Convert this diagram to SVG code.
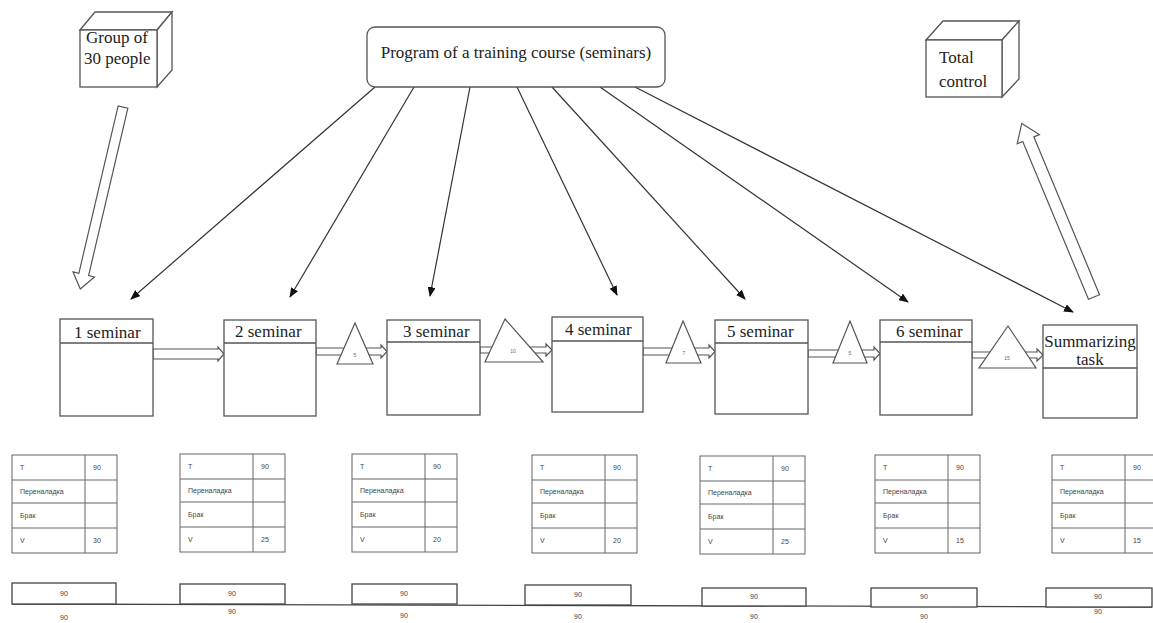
<svg xmlns="http://www.w3.org/2000/svg" width="1153" height="623" viewBox="0 0 1153 623">
  <style>
    .box { fill: #fff; stroke: #555; stroke-width: 1.3; }
    .serif { font-family: "Liberation Serif", "Times New Roman", serif; font-size: 17px; fill: #222; }
    .small { font-family: "Liberation Sans", Arial, sans-serif; font-size: 7px; fill: #444; }
    .tiny { font-family: "Liberation Sans", Arial, sans-serif; font-size: 5px; fill: #666; text-anchor: middle; }
    .thin { stroke: #333; stroke-width: 1.2; fill: none; marker-end: url(#solidHead); }
    .hollow { fill: #fff; stroke: #555; stroke-width: 1.2; }
    .grid { fill: #fff; stroke: #666; stroke-width: 1; }
    .bar { fill: #fff; stroke: #444; stroke-width: 1.3; }
    .mid { text-anchor: middle; }
  </style>
  <defs>
    <marker id="solidHead" markerWidth="10" markerHeight="8" refX="9" refY="4" orient="auto" markerUnits="userSpaceOnUse">
      <path d="M0,0 L10,4 L0,8 Z" fill="#111"/>
    </marker>
    <g id="tableGrid">
      <rect class="grid" x="0" y="0" width="105" height="98"/>
      <line class="grid" x1="73" y1="0" x2="73" y2="98"/>
      <line class="grid" x1="0" y1="25" x2="105" y2="25"/>
      <line class="grid" x1="0" y1="48" x2="105" y2="48"/>
      <line class="grid" x1="0" y1="73" x2="105" y2="73"/>
    </g>
  </defs>

  <rect width="1153" height="623" fill="#fff"/>

  <!-- connectors -->
  <g id="connectors">
    <!-- course program to each seminar -->
    <line class="thin" x1="375" y1="87" x2="131" y2="299"/>
    <line class="thin" x1="414" y1="87" x2="290" y2="297"/>
    <line class="thin" x1="470" y1="87" x2="430" y2="296"/>
    <line class="thin" x1="517" y1="87" x2="617" y2="295"/>
    <line class="thin" x1="552" y1="87" x2="745" y2="299"/>
    <line class="thin" x1="600" y1="87" x2="908" y2="302"/>
    <line class="thin" x1="635" y1="87" x2="1073" y2="312"/>

    <!-- group enters the first seminar -->
    <polygon class="hollow" transform="translate(123,107) rotate(103.2)" points="0,-5 172,-5 172,-11 187,0 172,11 172,5 0,5"/>
    <!-- summarizing task goes to total control -->
    <polygon class="hollow" transform="translate(1094,297) rotate(-112.6)" points="0,-6 171,-6 171,-12 188,0 171,12 171,6 0,6"/>

    <!-- seminar to seminar transfers -->
    <polygon class="hollow" points="153,349 218,349 218,347 224,354 218,361 218,359 153,359"/>
    <polygon class="hollow" points="316,348 381,348 381,345 387,351.5 381,358 381,355 316,355"/>
    <polygon class="hollow" points="480,347 546,347 546,344 552,350 546,356 546,353 480,353"/>
    <polygon class="hollow" points="643,348 709,348 709,345 715,351.5 709,358 709,355 643,355"/>
    <polygon class="hollow" points="808,350 874,350 874,347 880,353.5 874,360 874,357 808,357"/>
    <polygon class="hollow" points="972,352 1037,352 1037,349 1043,355 1037,361 1037,358 972,358"/>

    <!-- waiting stock between seminars -->
    <polygon class="hollow" points="355,323 373,364 337,364"/>
    <text class="tiny" x="355" y="357">5</text>
    <polygon class="hollow" points="505,319 543,362 485,362"/>
    <text class="tiny" x="513" y="353">10</text>
    <polygon class="hollow" points="683,321 701,363 666,363"/>
    <text class="tiny" x="684" y="355">7</text>
    <polygon class="hollow" points="850,321 867,363 833,363"/>
    <text class="tiny" x="850" y="355">5</text>
    <polygon class="hollow" points="1008,326 1036,368 979,368"/>
    <text class="tiny" x="1007" y="360">15</text>

    <!-- timeline -->
    <line x1="12" y1="604" x2="1152" y2="607" stroke="#444" stroke-width="1.3"/>
  </g>

  <!-- source and target -->
  <g id="group">
    <polygon class="box" points="80,30 95,12 172,12 157,30"/>
    <polygon class="box" points="157,30 172,12 172,70 157,87"/>
    <rect class="box" x="80" y="30" width="77" height="57"/>
    <text class="serif" x="86" y="43">Group of</text>
    <text class="serif" x="84" y="64">30 people</text>
  </g>

  <g id="program">
    <rect class="box" x="367" y="27" width="298" height="60" rx="8"/>
    <text class="serif mid" x="516" y="58">Program of a training course (seminars)</text>
  </g>

  <g id="total-control">
    <polygon class="box" points="926,40 943,21 1019,21 1002,40"/>
    <polygon class="box" points="1002,40 1019,21 1019,79 1002,97"/>
    <rect class="box" x="926" y="40" width="76" height="57"/>
    <text class="serif" x="939" y="63">Total</text>
    <text class="serif" x="939" y="87">control</text>
  </g>

  <!-- seminars -->
  <g id="seminar-1">
    <rect class="box" x="60" y="319" width="93" height="97"/>
    <line class="box" x1="60" y1="343" x2="153" y2="343"/>
    <text class="serif" x="74" y="338">1 seminar</text>
  </g>
  <g id="seminar-2">
    <rect class="box" x="224" y="320" width="92" height="96"/>
    <line class="box" x1="224" y1="343" x2="316" y2="343"/>
    <text class="serif" x="235" y="337">2 seminar</text>
  </g>
  <g id="seminar-3">
    <rect class="box" x="387" y="320" width="93" height="95"/>
    <line class="box" x1="387" y1="342" x2="480" y2="342"/>
    <text class="serif" x="403" y="337">3 seminar</text>
  </g>
  <g id="seminar-4">
    <rect class="box" x="552" y="317" width="91" height="95"/>
    <line class="box" x1="552" y1="341" x2="643" y2="341"/>
    <text class="serif" x="565" y="335">4 seminar</text>
  </g>
  <g id="seminar-5">
    <rect class="box" x="715" y="320" width="93" height="94"/>
    <line class="box" x1="715" y1="343" x2="808" y2="343"/>
    <text class="serif" x="727" y="337">5 seminar</text>
  </g>
  <g id="seminar-6">
    <rect class="box" x="880" y="320" width="92" height="95"/>
    <line class="box" x1="880" y1="342" x2="972" y2="342"/>
    <text class="serif" x="896" y="337">6 seminar</text>
  </g>
  <g id="summarizing-task">
    <rect class="box" x="1043" y="325" width="94" height="93"/>
    <line class="box" x1="1043" y1="368" x2="1137" y2="368"/>
    <text class="serif mid" x="1090" y="347">Summarizing</text>
    <text class="serif mid" x="1090" y="365">task</text>
  </g>

  <!-- stage parameter tables -->
  <g id="table-1" transform="translate(12,455)">
    <use href="#tableGrid"/>
    <text class="small" x="8" y="15">T</text><text class="small" x="81" y="15">90</text>
    <text class="small" x="8" y="39">Переналадка</text>
    <text class="small" x="8" y="63">Брак</text>
    <text class="small" x="8" y="88">V</text><text class="small" x="81" y="88">30</text>
  </g>
  <g id="table-2" transform="translate(180,454)">
    <use href="#tableGrid"/>
    <text class="small" x="8" y="15">T</text><text class="small" x="81" y="15">90</text>
    <text class="small" x="8" y="39">Переналадка</text>
    <text class="small" x="8" y="63">Брак</text>
    <text class="small" x="8" y="88">V</text><text class="small" x="81" y="88">25</text>
  </g>
  <g id="table-3" transform="translate(352,454)">
    <use href="#tableGrid"/>
    <text class="small" x="8" y="15">T</text><text class="small" x="81" y="15">90</text>
    <text class="small" x="8" y="39">Переналадка</text>
    <text class="small" x="8" y="63">Брак</text>
    <text class="small" x="8" y="88">V</text><text class="small" x="81" y="88">20</text>
  </g>
  <g id="table-4" transform="translate(532,455)">
    <use href="#tableGrid"/>
    <text class="small" x="8" y="15">T</text><text class="small" x="81" y="15">90</text>
    <text class="small" x="8" y="39">Переналадка</text>
    <text class="small" x="8" y="63">Брак</text>
    <text class="small" x="8" y="88">V</text><text class="small" x="81" y="88">20</text>
  </g>
  <g id="table-5" transform="translate(700,456)">
    <use href="#tableGrid"/>
    <text class="small" x="8" y="15">T</text><text class="small" x="81" y="15">90</text>
    <text class="small" x="8" y="39">Переналадка</text>
    <text class="small" x="8" y="63">Брак</text>
    <text class="small" x="8" y="88">V</text><text class="small" x="81" y="88">25</text>
  </g>
  <g id="table-6" transform="translate(875,455)">
    <use href="#tableGrid"/>
    <text class="small" x="8" y="15">T</text><text class="small" x="81" y="15">90</text>
    <text class="small" x="8" y="39">Переналадка</text>
    <text class="small" x="8" y="63">Брак</text>
    <text class="small" x="8" y="88">V</text><text class="small" x="81" y="88">15</text>
  </g>
  <g id="table-7" transform="translate(1052,455)">
    <use href="#tableGrid"/>
    <text class="small" x="8" y="15">T</text><text class="small" x="81" y="15">90</text>
    <text class="small" x="8" y="39">Переналадка</text>
    <text class="small" x="8" y="63">Брак</text>
    <text class="small" x="8" y="88">V</text><text class="small" x="81" y="88">15</text>
  </g>

  <!-- time bars on the timeline -->
  <g id="bar-1">
    <rect class="bar" x="12" y="583" width="104" height="21"/>
    <text class="small mid" x="64" y="596">90</text>
    <text class="small mid" x="64" y="620">90</text>
  </g>
  <g id="bar-2">
    <rect class="bar" x="180" y="584" width="105" height="20"/>
    <text class="small mid" x="232" y="596">90</text>
    <text class="small mid" x="232" y="614">90</text>
  </g>
  <g id="bar-3">
    <rect class="bar" x="352" y="584" width="105" height="20"/>
    <text class="small mid" x="404" y="596">90</text>
    <text class="small mid" x="404" y="618">90</text>
  </g>
  <g id="bar-4">
    <rect class="bar" x="525" y="585" width="106" height="20"/>
    <text class="small mid" x="578" y="597">90</text>
    <text class="small mid" x="578" y="619">90</text>
  </g>
  <g id="bar-5">
    <rect class="bar" x="702" y="588" width="104" height="18"/>
    <text class="small mid" x="754" y="599">90</text>
    <text class="small mid" x="754" y="619">90</text>
  </g>
  <g id="bar-6">
    <rect class="bar" x="871" y="588" width="106" height="19"/>
    <text class="small mid" x="924" y="599">90</text>
    <text class="small mid" x="924" y="619">90</text>
  </g>
  <g id="bar-7">
    <rect class="bar" x="1046" y="588" width="106" height="19"/>
    <text class="small mid" x="1098" y="599">90</text>
    <text class="small mid" x="1098" y="614">90</text>
  </g>
</svg>
